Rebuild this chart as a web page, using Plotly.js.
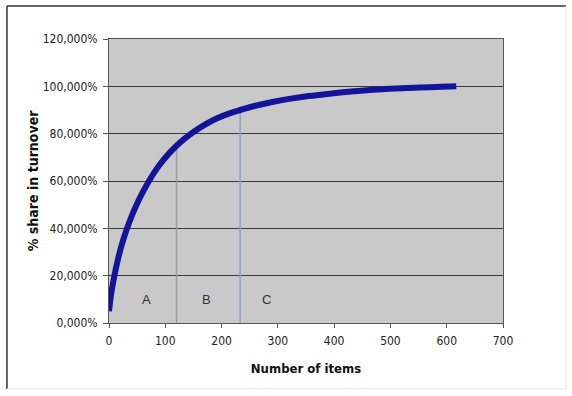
<!DOCTYPE html>
<html>
<head>
<meta charset="utf-8">
<script src="https://cdn.plot.ly/plotly-3.0.1.min.js"></script>
<style>
html,body{margin:0;padding:0;background:#fff;}
#chart{width:572px;height:396px;}
#chart text{font-stretch:condensed !important;}
</style>
</head>
<body>
<div id="chart"></div>
<script>
// Cumulative share curve
var items = [0, 2, 5, 10, 16, 23, 31, 40, 50, 60, 70, 82, 95, 108, 120, 135, 152, 172, 193, 214, 233, 260, 290, 320, 355, 392, 430, 470, 510, 552, 590, 617];
var share = [5, 9, 14, 20.5, 27, 33.3, 39.3, 45, 50.5, 55.3, 59.6, 64.2, 68.4, 72, 74.9, 78, 81, 84, 86.6, 88.6, 90, 91.8, 93.4, 94.7, 95.9, 96.9, 97.8, 98.6, 99.1, 99.5, 99.8, 100];
// Class boundaries (vertical lines)
var boundX = [120, 233];
var boundTop = [74.9, 90];
var boundColors = ['#9a9aa8', '#9a9ad0'];
// Class labels
var classNames = ['A', 'B', 'C'];
var classX = [67, 174, 279];
var classY = [10, 10, 10];
// Axis ticks
var yTicks = [0, 20, 40, 60, 80, 100, 120];
var yTickText = ['0,000%', '20,000%', '40,000%', '60,000%', '80,000%', '100,000%', '120,000%'];
var xTicks = [0, 100, 200, 300, 400, 500, 600, 700];
var xTitle = 'Number of items';
var yTitle = '% share in turnover';

var narrow = '"DejaVu Sans", "Liberation Sans Narrow", Arial, sans-serif';

var traces = [];
for (var i = 0; i < boundX.length; i++) {
  traces.push({
    x: [boundX[i], boundX[i]], y: [0, boundTop[i]],
    mode: 'lines', line: {color: boundColors[i], width: 1.5},
    hoverinfo: 'skip', showlegend: false
  });
}
traces.push({
  x: items, y: share, mode: 'lines',
  line: {color: '#14149a', width: 6, shape: 'spline', smoothing: 0.8},
  showlegend: false
});

var annotations = classNames.map(function (n, i) {
  return {x: classX[i], y: classY[i], xref: 'x', yref: 'y', text: n, showarrow: false,
    font: {family: 'Arial, "Liberation Sans", sans-serif', size: 13, color: '#333'}};
});
annotations.push({
  x: -0.193, y: 0.5, xref: 'paper', yref: 'paper', text: yTitle, textangle: -90,
  showarrow: false, xanchor: 'center', yanchor: 'middle',
  font: {family: narrow, size: 14, color: '#111', weight: 'bold'}
});

var layout = {
  width: 572, height: 396,
  margin: {l: 109, r: 69, t: 39, b: 73},
  paper_bgcolor: '#ffffff',
  plot_bgcolor: '#c9c9c9',
  showlegend: false,
  xaxis: {
    range: [0, 700], tickvals: xTicks, ticktext: xTicks.map(String),
    showgrid: false, zeroline: false,
    showline: true, linecolor: '#555', linewidth: 1, mirror: true,
    ticks: 'outside', ticklen: 4, tickcolor: '#555', ticklabelstandoff: 3,
    tickfont: {family: narrow, size: 12, color: '#222'},
    title: {text: xTitle, standoff: 16, font: {family: narrow, size: 13, color: '#111', weight: 'bold'}}
  },
  yaxis: {
    range: [0, 120], tickvals: yTicks, ticktext: yTickText,
    showgrid: true, gridcolor: '#3a3a3a', gridwidth: 1, zeroline: false,
    showline: true, linecolor: '#555', linewidth: 1, mirror: true,
    ticks: 'outside', ticklen: 5, tickcolor: '#555', ticklabelstandoff: 3,
    tickfont: {family: narrow, size: 12, color: '#222'}
  },
  annotations: annotations,
  shapes: [
    {type: 'line', xref: 'paper', yref: 'paper', x0: -0.259, x1: -0.259, y0: -0.232, y1: 1.116, line: {color: '#333', width: 1.5}},
    {type: 'line', xref: 'paper', yref: 'paper', x0: -0.259, x1: 1.16, y0: 1.116, y1: 1.116, line: {color: '#333', width: 1.5}},
    {type: 'line', xref: 'paper', yref: 'paper', x0: 1.16, x1: 1.16, y0: -0.232, y1: 1.116, line: {color: '#e4e4e4', width: 1}},
    {type: 'line', xref: 'paper', yref: 'paper', x0: -0.259, x1: 1.16, y0: -0.232, y1: -0.232, line: {color: '#e4e4e4', width: 1}}
  ]
};

Plotly.newPlot('chart', traces, layout, {displayModeBar: false, staticPlot: true});
</script>
</body>
</html>
